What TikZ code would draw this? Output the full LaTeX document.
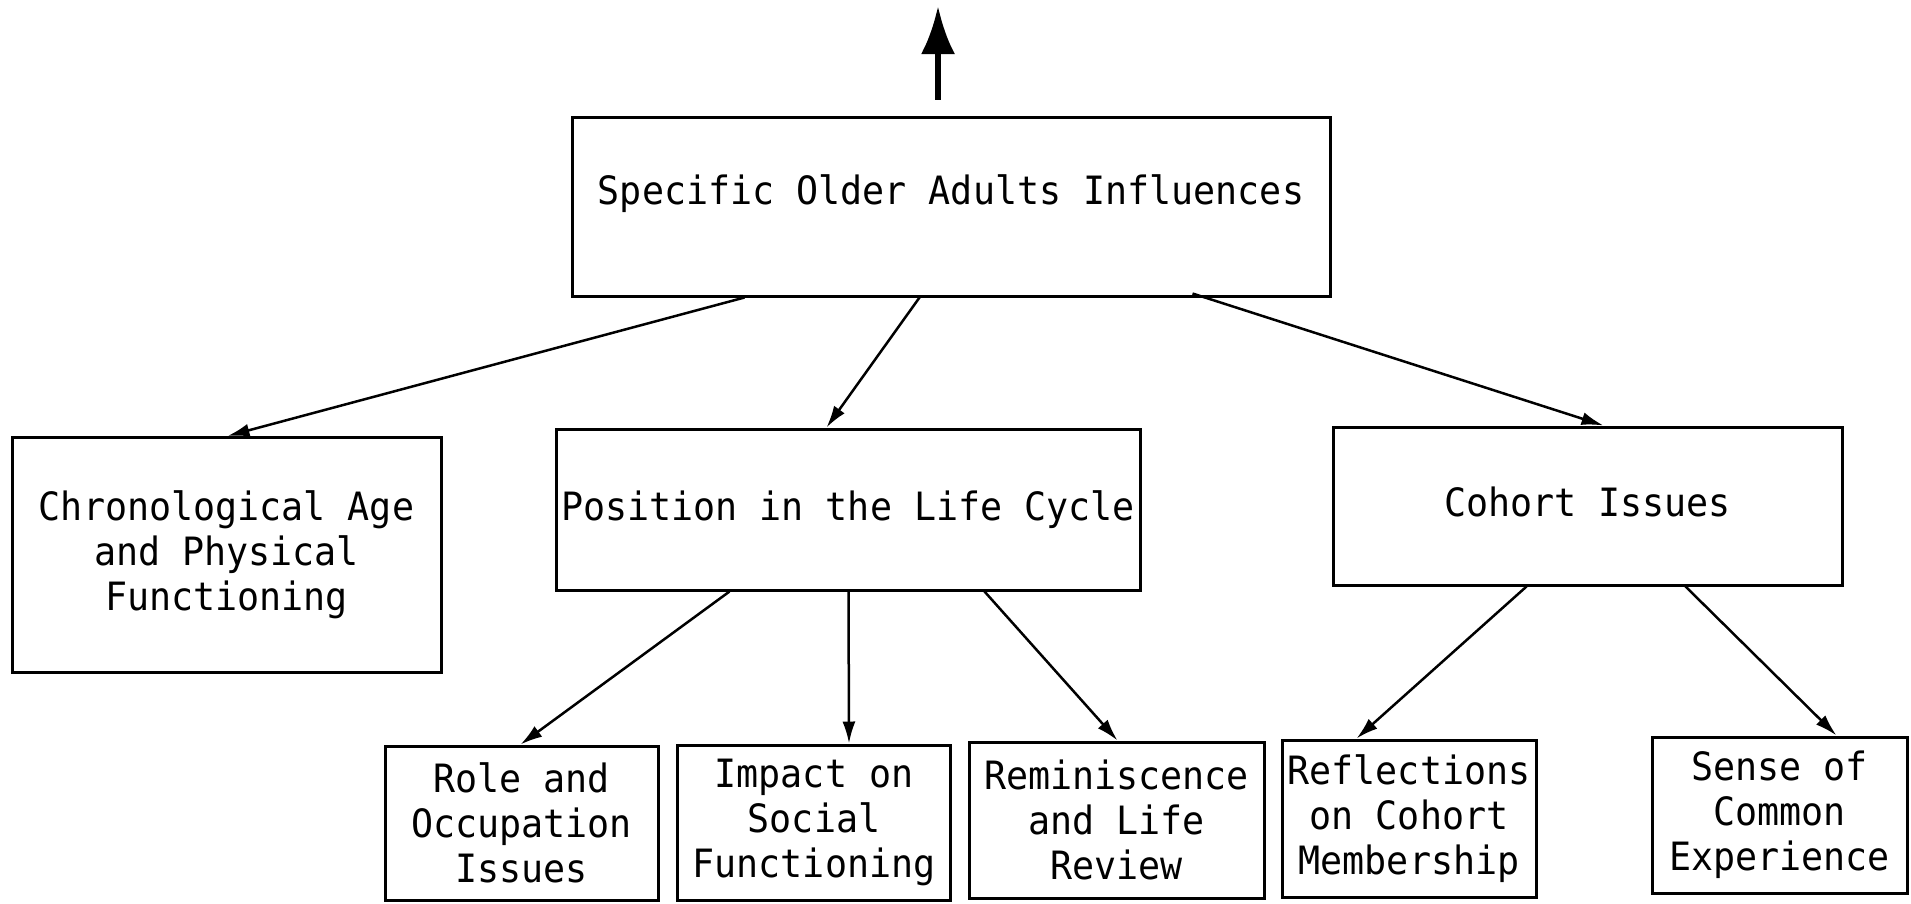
\documentclass[tikz,border=0pt]{standalone}
\usepackage{fontspec}
\setmonofont[FakeStretch=0.94]{DejaVu Sans Mono}
\usetikzlibrary{arrows.meta}
\tikzset{
  box/.style={draw, line width=3pt, inner sep=0pt, align=center,
    font=\ttfamily\fontsize{39}{45}\selectfont},
  link/.style={line width=2.5pt, -{Latex[length=22pt,width=13pt]}},
}
\begin{document}
\begin{tikzpicture}[x=1pt, y=-1pt]
  \useasboundingbox (0,0) rectangle (1911,903);
  % top level
  \node[box, minimum width=758pt, minimum height=179pt, text height=28pt, text depth=32pt]
    (top) at (951,206.5) {Specific Older Adults Influences};
  \coordinate (upstart) at ([yshift=16pt]top.north -| 938,0);
  \coordinate (uptip) at (938,6);
  \draw[line width=6pt, -{Latex[length=48pt,width=34pt]}] (upstart) -- (uptip);
  % second level
  \node[box, minimum width=429pt, minimum height=235pt] (chrono) at (226.5,555)
    {Chronological Age\\and Physical\\Functioning};
  \node[box, minimum width=584pt, minimum height=161pt] (pos) at (848,509.5)
    {Position in the Life Cycle};
  \node[box, minimum width=509pt, minimum height=158pt, text height=28pt, text depth=8pt]
    (cohort) at (1587.5,506) {Cohort Issues};
  % third level
  \node[box, minimum width=273pt, minimum height=154pt] (role) at (521.5,823)
    {Role and\\Occupation\\Issues};
  \node[box, minimum width=273pt, minimum height=155pt] (impact) at (814,822.5)
    {Impact on\\Social\\Functioning};
  \node[box, minimum width=295pt, minimum height=156pt] (remin) at (1116.5,820)
    {Reminiscence\\and Life\\Review};
  \node[box, minimum width=254pt, minimum height=157pt] (refl) at (1409,818.5)
    {Reflections\\on Cohort\\Membership};
  \node[box, minimum width=255pt, minimum height=156pt] (sense) at (1779.5,815)
    {Sense of\\Common\\Experience};
  % connectors
  \draw[link] ([xshift=174pt]top.south west) -- ([xshift=217pt]chrono.north west);
  \draw[link] ([xshift=349pt]top.south west) -- ([xshift=272pt]pos.north west);
  \draw[link] ([xshift=622pt,yshift=4pt]top.south west) -- ([xshift=272pt]cohort.north west);
  \draw[link] ([xshift=175pt]pos.south west) -- ([xshift=137pt]role.north west);
  \draw[link] ([xshift=294pt]pos.south west) -- ([xshift=173pt]impact.north west);
  \draw[link] ([xshift=430pt]pos.south west) -- ([xshift=150pt]remin.north west);
  \draw[link] ([xshift=195pt]cohort.south west) -- ([xshift=76pt]refl.north west);
  \draw[link] ([xshift=354pt]cohort.south west) -- ([xshift=186pt]sense.north west);
\end{tikzpicture}
\end{document}
